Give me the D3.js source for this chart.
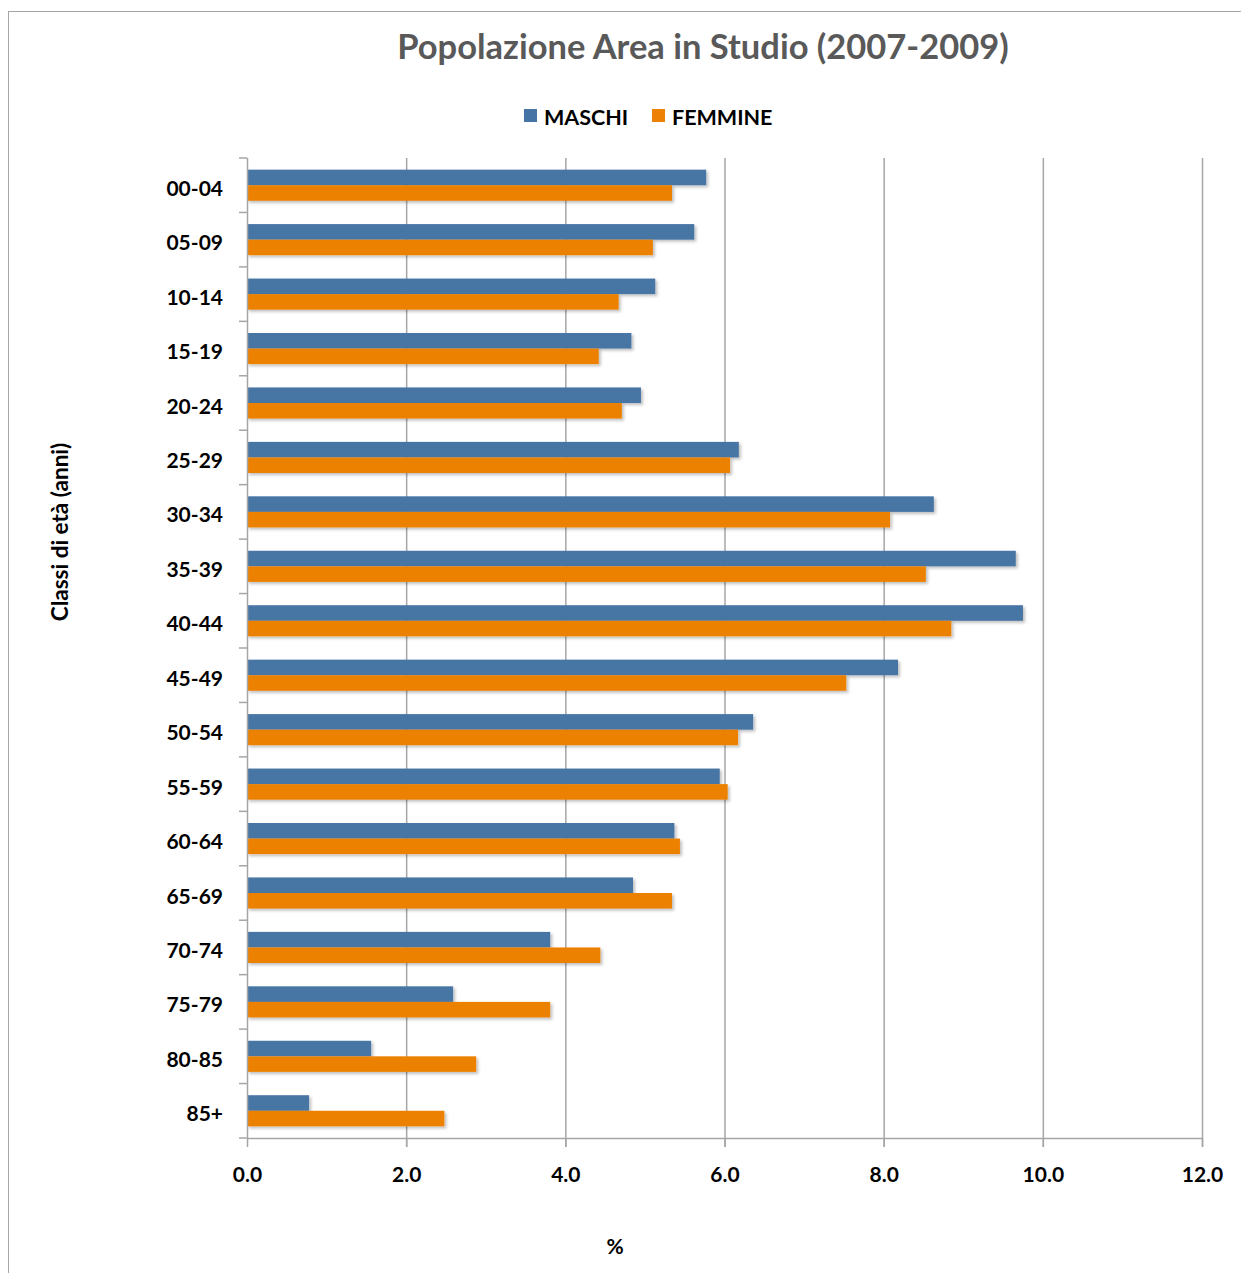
<!DOCTYPE html>
<html><head><meta charset="utf-8">
<script src="https://cdn.jsdelivr.net/npm/d3@7"></script>
<style>body{margin:0;background:#fff;} text{font-family:Lato,"Open Sans",sans-serif;}</style>
</head><body><svg id="c" width="1241" height="1273"></svg>
<script>
const categories = ["00-04","05-09","10-14","15-19","20-24","25-29","30-34","35-39","40-44","45-49","50-54","55-59","60-64","65-69","70-74","75-79","80-85","85+"];
const maschi  = [5.77,5.62,5.13,4.83,4.95,6.18,8.63,9.66,9.75,8.18,6.36,5.94,5.37,4.85,3.81,2.59,1.56,0.78];
const femmine = [5.34,5.10,4.67,4.42,4.71,6.07,8.08,8.53,8.85,7.53,6.17,6.04,5.44,5.34,4.44,3.81,2.88,2.48];
const seriesNames = ["MASCHI","FEMMINE"];
const colors = ["#4674a4","#ec8106"];
const xTicks = [0,2,4,6,8,10,12];

const svg = d3.select("#c");
const defs = svg.append("defs");
const f = defs.append("filter").attr("id","sh").attr("x","-5%").attr("y","-30%").attr("width","115%").attr("height","180%");
f.append("feDropShadow").attr("dx",2).attr("dy",2).attr("stdDeviation",1.5).attr("flood-color","#000").attr("flood-opacity",0.25);

svg.append("rect").attr("x",8.5).attr("y",11.5).attr("width",1240).attr("height",1270).attr("fill","none").attr("stroke","#a6a6a6");

const L=247,R=1202,T=158,B=1138;
const x = d3.scaleLinear().domain([0,12]).range([L,R]);
const y = d3.scaleBand().domain(categories).range([T,B]);
const inner = d3.scaleBand().domain(seriesNames).range([0,y.bandwidth()]).paddingOuter(0.75).paddingInner(0);

// gridlines
svg.append("g").selectAll("line").data(xTicks.slice(1)).join("line")
  .attr("x1",d=>x(d)+0.5).attr("x2",d=>x(d)+0.5).attr("y1",T).attr("y2",B+9)
  .attr("stroke","#a6a6a6").attr("stroke-width",1.5);

// bars
const data = [maschi,femmine];
const g = svg.append("g");
data.forEach((vals,si)=>{
  g.append("g").selectAll("rect").data(vals).join("rect")
    .attr("x",x(0)).attr("y",(d,i)=>y(categories[i])+inner(seriesNames[si]))
    .attr("width",d=>x(d)-x(0)).attr("height",inner.bandwidth())
    .attr("fill",colors[si]).attr("filter","url(#sh)");
});

// axes
const xa = svg.append("g").attr("transform",`translate(0,${B})`)
  .call(d3.axisBottom(x).tickValues(xTicks).tickFormat(d3.format(".1f")).tickSize(9).tickPadding(20));
xa.select(".domain").attr("stroke","#a6a6a6").attr("stroke-width",1.5).attr("d",`M${L},0.5H${R}`);
xa.selectAll(".tick line").attr("stroke","#a6a6a6").attr("stroke-width",1.5);
xa.selectAll(".tick text").attr("font-size",21).attr("font-weight","bold").attr("fill","#000");

const ya = svg.append("g").attr("transform",`translate(${L},0)`)
  .call(d3.axisLeft(y).tickSize(0).tickPadding(24));
ya.select(".domain").attr("stroke","#a6a6a6").attr("stroke-width",1.5).attr("d",`M0.5,${T}V${B}`);
ya.selectAll(".tick text").attr("font-size",21).attr("font-weight","bold").attr("fill","#000").attr("dy","0.5em");
// category boundary ticks
svg.append("g").selectAll("line").data(categories.concat([null])).join("line")
  .attr("x1",L-8).attr("x2",L).attr("y1",(d,i)=>T+i*y.step()).attr("y2",(d,i)=>T+i*y.step())
  .attr("stroke","#a6a6a6").attr("stroke-width",1.5);

// title
svg.append("text").attr("x",703).attr("y",59).attr("text-anchor","middle")
  .attr("font-size",34.5).attr("font-weight","bold").attr("fill","#595959").text("Popolazione Area in Studio (2007-2009)");

// legend
const lg = svg.append("g");
const lx=[524,652];
seriesNames.forEach((n,i)=>{
  lg.append("rect").attr("x",lx[i]).attr("y",109).attr("width",13).attr("height",13).attr("fill",colors[i]);
  lg.append("text").attr("x",lx[i]+20).attr("y",125).attr("font-size",21.5).attr("font-weight","bold").attr("fill","#000").text(n);
});

// axis titles
svg.append("text").attr("x",615).attr("y",1254).attr("text-anchor","middle").attr("font-size",21).attr("font-weight","bold").text("%");
svg.append("text").attr("transform","translate(68,532) rotate(-90)").attr("text-anchor","middle").attr("font-size",22.5).attr("font-weight","bold").text("Classi di età (anni)");
</script></body></html>
